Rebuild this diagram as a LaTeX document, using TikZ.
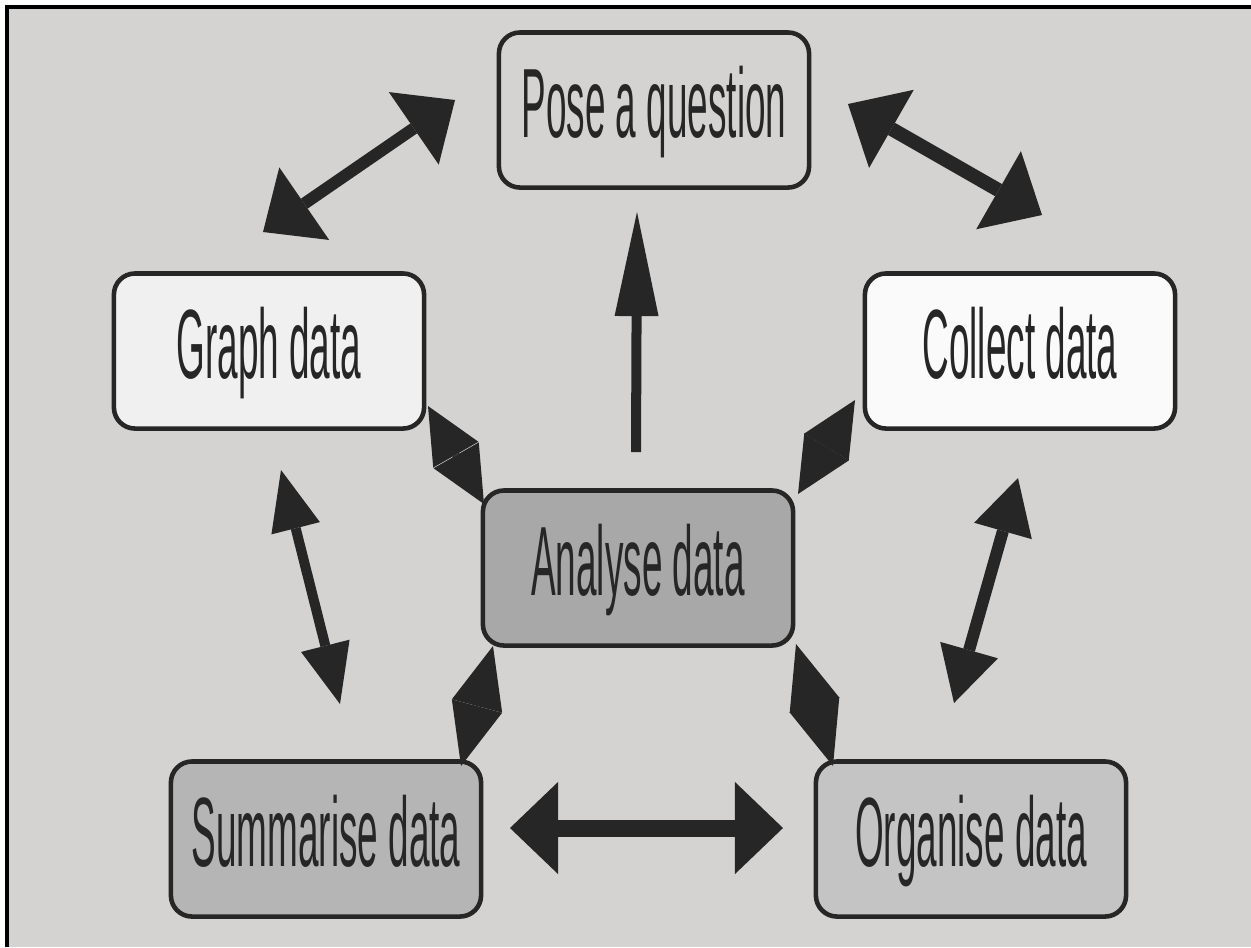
\documentclass[tikz,border=0pt]{standalone}
\usepackage{fontspec}
\usetikzlibrary{arrows.meta}
\newfontfamily\condsans[FakeStretch=0.375]{Liberation Sans}
\definecolor{panel}{HTML}{D4D3D1}
\definecolor{ink}{HTML}{262626}

\begin{document}
\begin{tikzpicture}[
  x=0.01cm,y=-0.01cm,
  font=\condsans\fontsize{28}{30}\selectfont,
  stagebox/.style={draw=ink,line width=1.3pt,rounded corners=6pt,
                   minimum width=3.1cm,minimum height=1.55cm,inner sep=0pt,
                   text height=0.75cm,text depth=0.21cm,text=ink},
  link/.style n args={3}{draw=ink,line width=#1,
                   >={Triangle[length=#2,width=#3,line width=0pt]}}
]
  \useasboundingbox (0,0) rectangle (1251,947);
  \fill[white] (0,0) rectangle (1251,947);
  \fill[panel] (7,7) rectangle (1251,947);
  \draw[black,line width=0.035cm] (7,947)--(7,7)--(1251,7);

  \node[stagebox,fill=panel] (pose) at (654,110) {Pose a question};
  \node[stagebox,fill=black!6] (graph) at (269,351) {Graph data};
  \node[stagebox,fill=black!2] (collect) at (1020,351) {Collect data};
  \node[stagebox,fill=black!34] (analyse) at (638,568) {Analyse data};
  \node[stagebox,fill=black!29] (summ) at (326,839) {Summarise data};
  \node[stagebox,fill=black!23] (organ) at (971,839) {Organise data};

  \coordinate (gpA) at (263,232);   \coordinate (gpB) at (455,100);
  \coordinate (pcA) at (848,104);   \coordinate (pcB) at (1042,215);
  \coordinate (coA) at (1018,478);  \coordinate (coB) at (954,703);
  \coordinate (gsA) at (281,470);   \coordinate (gsB) at (340,704);
  \coordinate (soA) at (510,828);   \coordinate (soB) at (783,828);
  \coordinate (apA) at (636,452);   \coordinate (apB) at (637,212);
  \coordinate (agA) at (428,406);   \coordinate (agB) at (484,504);
  \coordinate (acA) at (798,494);   \coordinate (acB) at (855,400);
  \coordinate (asA) at (493,646);   \coordinate (asB) at (461,766);
  \coordinate (aoA) at (796,644);   \coordinate (aoB) at (833,766);

  \draw[link={0.12cm}{0.5cm}{0.88cm},<->] (gpA)--(gpB);
  \draw[link={0.14cm}{0.5cm}{0.9cm},<->] (pcA)--(pcB);
  \draw[link={0.12cm}{0.55cm}{0.6cm},<->] (coA)--(coB);
  \draw[link={0.1cm}{0.6cm}{0.5cm},<->] (gsA)--(gsB);
  \draw[link={0.17cm}{0.48cm}{0.92cm},<->] (soA)--(soB);
  \draw[link={0.1cm}{1.04cm}{0.44cm},->] (apA)--(apB);

  \draw[link={0.08cm}{0.56cm}{0.52cm},<->] (agA)--(agB);
  \draw[link={0.08cm}{0.55cm}{0.52cm},<->] (acA)--(acB);
  \draw[link={0.08cm}{0.62cm}{0.52cm},<->] (asA)--(asB);
  \draw[link={0.08cm}{0.64cm}{0.52cm},<->] (aoA)--(aoB);
\end{tikzpicture}
\end{document}
